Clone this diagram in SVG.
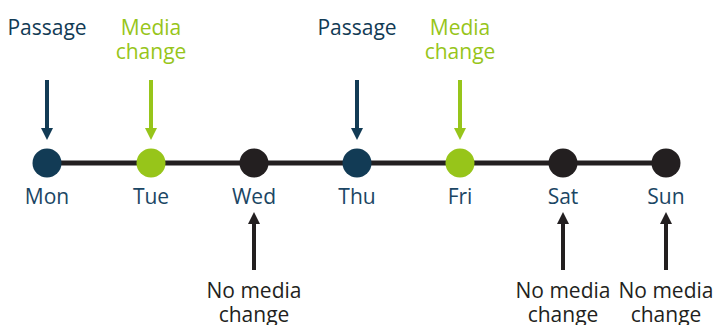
<svg xmlns="http://www.w3.org/2000/svg" width="714" height="325" viewBox="0 0 714 325">
<style>
text{font-family:"Open Sans","Noto Sans",sans-serif;font-size:21px;text-anchor:middle}
.navy{fill:#123b55}
.green{fill:#97c51a}
.black{fill:#231f20}
.day{fill:#1b4664}
</style>
<rect width="714" height="325" fill="#fff"/>
<g id="connectors">
<line x1="47" y1="163" x2="666" y2="163" stroke="#231f20" stroke-width="5"/>
<g id="arrow-mon"><rect x="45" y="80" width="4" height="49" fill="#123b55"/><path d="M41,128 L53,128 L47,140 Z" fill="#123b55"/></g>
<g id="arrow-tue"><rect x="149" y="80" width="4" height="49" fill="#97c51a"/><path d="M145,128 L157,128 L151,140 Z" fill="#97c51a"/></g>
<g id="arrow-thu"><rect x="355" y="80" width="4" height="49" fill="#123b55"/><path d="M351,128 L363,128 L357,140 Z" fill="#123b55"/></g>
<g id="arrow-fri"><rect x="458" y="80" width="4" height="49" fill="#97c51a"/><path d="M454,128 L466,128 L460,140 Z" fill="#97c51a"/></g>
<g id="arrow-wed"><rect x="252" y="223" width="4" height="47" fill="#231f20"/><path d="M248,224 L260,224 L254,212 Z" fill="#231f20"/></g>
<g id="arrow-sat"><rect x="561" y="223" width="4" height="47" fill="#231f20"/><path d="M557,224 L569,224 L563,212 Z" fill="#231f20"/></g>
<g id="arrow-sun"><rect x="664" y="223" width="4" height="47" fill="#231f20"/><path d="M660,224 L672,224 L666,212 Z" fill="#231f20"/></g>
</g>
<g id="mon"><circle cx="47" cy="163" r="14.5" fill="#123b55"/><text x="47" y="204" class="day">Mon</text><text x="47" y="35" class="navy">Passage</text></g>
<g id="tue"><circle cx="151" cy="163" r="14.5" fill="#97c51a"/><text x="151" y="204" class="day">Tue</text><text x="151" y="35" class="green">Media</text><text x="151" y="59" class="green">change</text></g>
<g id="wed"><circle cx="254" cy="163" r="14.5" fill="#231f20"/><text x="254" y="204" class="day">Wed</text><text x="254" y="298" class="black">No media</text><text x="254" y="322" class="black">change</text></g>
<g id="thu"><circle cx="357" cy="163" r="14.5" fill="#123b55"/><text x="357" y="204" class="day">Thu</text><text x="357" y="35" class="navy">Passage</text></g>
<g id="fri"><circle cx="460" cy="163" r="14.5" fill="#97c51a"/><text x="460" y="204" class="day">Fri</text><text x="460" y="35" class="green">Media</text><text x="460" y="59" class="green">change</text></g>
<g id="sat"><circle cx="563" cy="163" r="14.5" fill="#231f20"/><text x="563" y="204" class="day">Sat</text><text x="563" y="298" class="black">No media</text><text x="563" y="322" class="black">change</text></g>
<g id="sun"><circle cx="666" cy="163" r="14.5" fill="#231f20"/><text x="666" y="204" class="day">Sun</text><text x="666" y="298" class="black">No media</text><text x="666" y="322" class="black">change</text></g>
</svg>
